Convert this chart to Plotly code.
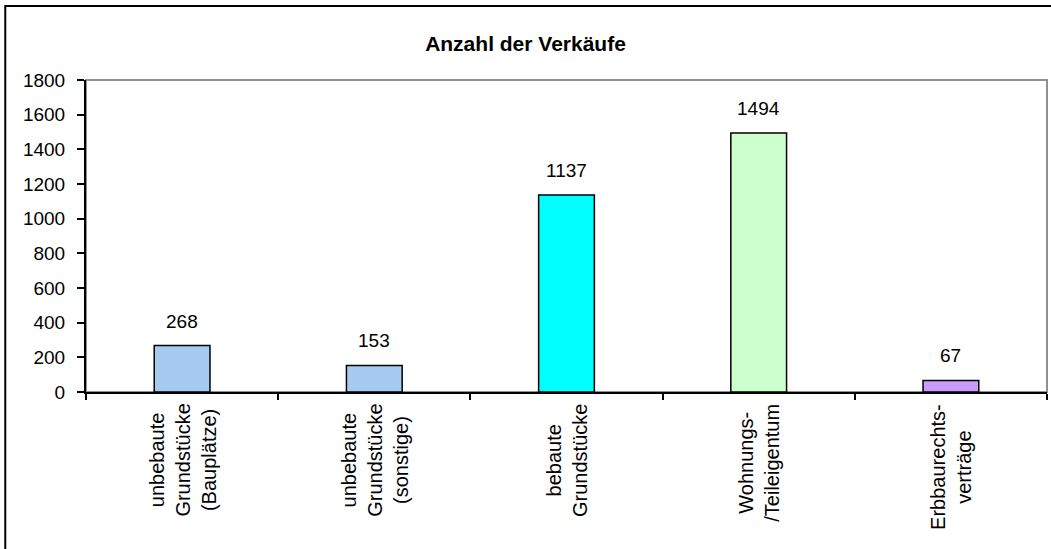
import plotly.graph_objects as go

categories = [
    "unbebaute<br>Grundstücke<br>(Bauplätze)",
    "unbebaute<br>Grundstücke<br>(sonstige)",
    "bebaute<br>Grundstücke",
    "Wohnungs-<br>/Teileigentum",
    "Erbbaurechts-<br>verträge",
]
keys = ["bauplaetze", "sonstige", "bebaut", "wohnung", "erbbau"]
sales = [268, 153, 1137, 1494, 67]
bar_colors = ["#A6CAF0", "#A6CAF0", "#00FFFF", "#CCFFCC", "#CC99FF"]

FAMILY = "Liberation Sans, Arial, sans-serif"

fig = go.Figure()
fig.add_trace(
    go.Bar(
        x=keys,
        y=sales,
        marker=dict(color=bar_colors, line=dict(color="black", width=1.5)),
        hoverinfo="skip",
    )
)

# value labels above bars
for k, v in zip(keys, sales):
    fig.add_annotation(
        x=k, y=v, text=str(v), showarrow=False, yanchor="bottom", yshift=12,
        font=dict(family=FAMILY, size=19, color="black"),
    )

# rotated category labels, lines centred
for k, lab in zip(keys, categories):
    fig.add_annotation(
        x=k, y=0, xref="x", yref="paper", text=lab, showarrow=False,
        textangle=-90, align="center", yanchor="top", xanchor="center",
        yshift=-10, font=dict(family=FAMILY, size=20, color="black"),
    )

# grey plot frame (top/right) and outer chart border
fig.add_shape(type="rect", xref="paper", yref="paper", x0=0, x1=1, y0=0, y1=1,
              line=dict(color="#909090", width=2), layer="below")
fig.add_shape(type="rect", xref="paper", yref="paper",
              x0=-0.084, x1=1.01, y0=-0.56, y1=1.237,
              line=dict(color="black", width=2))

fig.update_layout(
    width=1051,
    height=549,
    autosize=False,
    paper_bgcolor="white",
    plot_bgcolor="white",
    font=dict(family=FAMILY, size=19, color="black"),
    showlegend=False,
    bargap=0.71,
    margin=dict(l=86, r=4, t=80, b=157),
    title=dict(text="<b>Anzahl der Verkäufe</b>", x=0.5, xanchor="center",
               y=1 - 44 / 549, yanchor="middle", font=dict(size=21)),
    xaxis=dict(
        showticklabels=False, showline=True, linecolor="black", linewidth=2,
        ticks="outside", tickson="boundaries", ticklen=6, tickwidth=2,
        tickcolor="black", showgrid=False, zeroline=False,
    ),
    yaxis=dict(
        range=[0, 1800], dtick=200, showline=True, linecolor="black", linewidth=2,
        ticks="outside", ticklen=7, tickwidth=2, tickcolor="black",
        showgrid=False, zeroline=False, ticklabelstandoff=8,
    ),
)

fig.write_html(
    "out.html",
    config={"displayModeBar": False},
    post_script="document.body.style.margin='0';document.body.style.overflow='hidden';",
)
